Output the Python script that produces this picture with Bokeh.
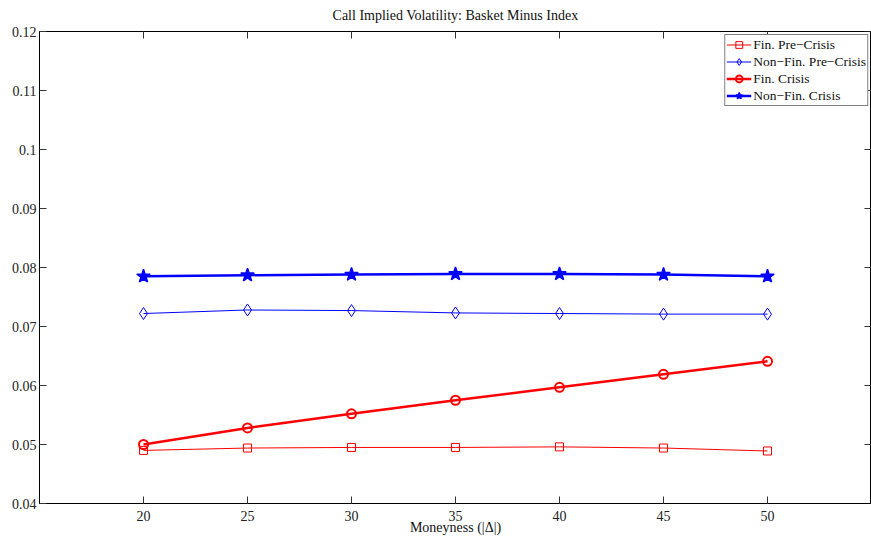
import math
from bokeh.plotting import figure
from bokeh.models import FixedTicker, LinearAxis, Range1d, Legend, LegendItem, Title
from bokeh.embed import file_html
from bokeh.resources import INLINE

# ---- data ----
moneyness = [20, 25, 30, 35, 40, 45, 50]
fin_pre = [0.0490, 0.0494, 0.0495, 0.0495, 0.0496, 0.0494, 0.0489]
nonfin_pre = [0.0722, 0.0728, 0.0727, 0.0723, 0.0722, 0.0721, 0.0721]
fin_crisis = [0.0500, 0.0528, 0.0552, 0.0575, 0.0597, 0.0619, 0.0641]
nonfin_crisis = [0.0785, 0.0787, 0.0788, 0.0789, 0.0789, 0.0788, 0.0785]

series_names = ["Fin. Pre\u2212Crisis", "Non\u2212Fin. Pre\u2212Crisis",
                "Fin. Crisis", "Non\u2212Fin. Crisis"]
x_ticks = [20, 25, 30, 35, 40, 45, 50]
y_ticks = [0.04, 0.05, 0.06, 0.07, 0.08, 0.09, 0.1, 0.11, 0.12]
y_tick_labels = ["0.04", "0.05", "0.06", "0.07", "0.08", "0.09", "0.1", "0.11", "0.12"]
x_lim = (15, 55)
y_lim = (0.04, 0.12)
title_text = "Call Implied Volatility: Basket Minus Index"
x_label = "Moneyness (|\u0394|)"

FONT = "Liberation Serif"
FS = "14px"
TICK_COLOR = "#333333"

p = figure(frame_width=832, frame_height=472,
           x_range=Range1d(*x_lim), y_range=Range1d(*y_lim),
           output_backend="svg", toolbar_location=None,
           min_border_left=39, min_border_right=0, min_border_top=31, min_border_bottom=37,
           background_fill_color="white", border_fill_color="white",
           x_axis_location=None, y_axis_location=None)
p.grid.visible = False
p.outline_line_color = "black"
p.outline_line_width = 1

def style_axis(ax):
    ax.major_tick_in = 7
    ax.major_tick_out = 0
    ax.minor_tick_line_color = None
    ax.axis_line_color = "black"
    ax.major_tick_line_color = TICK_COLOR
    ax.major_label_text_font = FONT
    ax.major_label_text_color = "#222222"
    ax.major_label_text_font_size = FS

xb = LinearAxis(ticker=FixedTicker(ticks=x_ticks))
style_axis(xb)
xb.major_label_standoff = 7
xb.axis_label = x_label
xb.axis_label_text_font = FONT
xb.axis_label_text_font_size = FS
xb.axis_label_text_font_style = "normal"
xb.axis_label_text_color = "#111111"
xb.axis_label_standoff = -4
p.add_layout(xb, "below")

yl = LinearAxis(ticker=FixedTicker(ticks=y_ticks))
style_axis(yl)
yl.major_label_standoff = 3
yl.major_label_overrides = dict(zip(y_ticks, y_tick_labels))
p.add_layout(yl, "left")

# inward tick marks on the top and right edges (clipped to the frame)
p.scatter(x_ticks, [y_lim[1]] * len(x_ticks), marker="dash", angle=math.pi / 2,
          size=14, line_color=TICK_COLOR, line_width=1)
p.scatter([x_lim[1]] * len(y_ticks), y_ticks, marker="dash",
          size=14, line_color=TICK_COLOR, line_width=1)

t = Title(text=title_text, align="center", vertical_align="top",
          text_font=FONT, text_font_size="14px",
          text_font_style="normal", text_color="#111111", standoff=14, offset=0)
p.add_layout(t, "above")

RED = "#ff0000"
BLUE = "#0000ff"

l1 = p.line(moneyness, fin_pre, line_color=RED, line_width=1)
m1 = p.scatter(moneyness, fin_pre, marker="square", size=8, line_color=RED,
               fill_color=None, line_width=1)
l2 = p.line(moneyness, nonfin_pre, line_color=BLUE, line_width=1)
m2 = p.scatter(moneyness, nonfin_pre, marker="diamond", size=12, line_color=BLUE,
               fill_color=None, line_width=1)
l3 = p.line(moneyness, fin_crisis, line_color=RED, line_width=2.5)
m3 = p.scatter(moneyness, fin_crisis, marker="circle", size=9, line_color=RED,
               fill_color=None, line_width=2)
l4 = p.line(moneyness, nonfin_crisis, line_color=BLUE, line_width=2.5)
m4 = p.scatter(moneyness, nonfin_crisis, marker="star", size=14, line_color=BLUE,
               fill_color=BLUE, line_width=1.5)

legend = Legend(items=[
    LegendItem(label=series_names[0], renderers=[l1, m1]),
    LegendItem(label=series_names[1], renderers=[l2, m2]),
    LegendItem(label=series_names[2], renderers=[l3, m3]),
    LegendItem(label=series_names[3], renderers=[l4, m4]),
], location="top_right")
legend.border_line_color = "black"
legend.border_line_width = 1
legend.background_fill_color = "white"
legend.background_fill_alpha = 1
legend.label_text_font = FONT
legend.label_text_font_size = "13.5px"
legend.label_text_color = "#111111"
legend.glyph_width = 25
legend.glyph_height = 17
legend.label_height = 17
legend.label_standoff = 2
legend.spacing = 0
legend.padding = 1
legend.margin = 3
p.add_layout(legend)

open("out.html", "w").write(file_html(p, INLINE))
